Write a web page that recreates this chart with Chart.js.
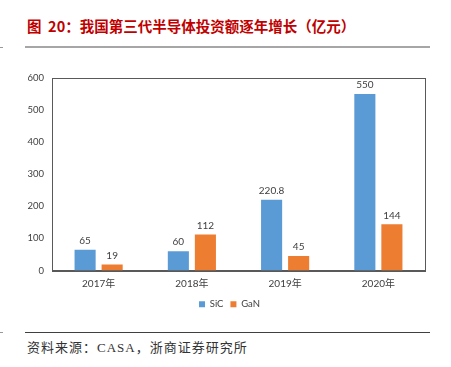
<!DOCTYPE html>
<html>
<head>
<meta charset="utf-8">
<script src="https://cdn.jsdelivr.net/npm/chart.js@4.4.1/dist/chart.umd.min.js"></script>
<style>
    body { margin: 0; background: #fff; width: 451px; height: 367px; position: relative; overflow: hidden; }
    .title { position: absolute; left: 27px; top: 15px; font: bold 14.5px "Noto Sans CJK SC", sans-serif; color: #c00000; white-space: pre; }
    .rule1 { position: absolute; left: 25px; top: 46px; width: 405px; height: 2px; background: #a6a6a6; }
    .rule2 { position: absolute; left: 25px; top: 332px; width: 405px; height: 1px; background: #404040; }
    .edge { position: absolute; left: 0; width: 3px; height: 1px; background: #999; }
    .source { position: absolute; left: 27px; top: 337px; font: 13px "Liberation Serif", "Noto Sans CJK SC", serif; color: #333; letter-spacing: 1px; white-space: nowrap; }
    #chartWrap { position: absolute; left: 0; top: 60px; }
</style>
</head>
<body>
<div class="title">图  20：我国第三代半导体投资额逐年增长（亿元）</div>
<div class="rule1"></div>
<div class="edge" style="top:47px"></div>
<div id="chartWrap"><canvas id="investChart" width="451" height="265"></canvas></div>
<div class="rule2"></div>
<div class="edge" style="top:332px"></div>
<div class="source">资料来源：CASA，浙商证券研究所</div>
<script>
const years = ['2017年', '2018年', '2019年', '2020年'];
const sicValues = [65, 60, 220.8, 550];
const ganValues = [19, 112, 45, 144];
const yMin = 0;
const yMax = 600;
const yStep = 100;

// labels above bars
const barLabels = {
    id: 'barLabels',
    afterDatasetsDraw(chart) {
        const ctx = chart.ctx;
        ctx.save();
        ctx.font = '10px Lato, "Noto Sans CJK SC", sans-serif';
        ctx.fillStyle = '#404040';
        ctx.textAlign = 'center';
        ctx.textBaseline = 'bottom';
        chart.data.datasets.forEach((ds, i) => {
            chart.getDatasetMeta(i).data.forEach((bar, j) => {
                ctx.fillText(String(ds.data[j]), bar.x, bar.y - 4);
            });
        });
        ctx.restore();
    }
};

// plot area box + nudge legend toward the plot centre
const plotBox = {
    id: 'plotBox',
    afterLayout(chart) {
        chart.legend.left += 7;
        chart.legend.right += 7;
    },
    afterDraw(chart) {
        const a = chart.chartArea;
        const ctx = chart.ctx;
        ctx.save();
        ctx.strokeStyle = '#595959';
        ctx.lineWidth = 1;
        ctx.strokeRect(Math.round(a.left) + 0.5, Math.round(a.top) + 0.5, Math.round(a.right - a.left), Math.round(a.bottom - a.top));
        ctx.restore();
    }
};

const ctx = document.getElementById('investChart').getContext('2d');
const investChart = new Chart(ctx, {
    type: 'bar',
    data: {
        labels: years,
        datasets: [{
            label: 'SiC',
            data: sicValues,
            backgroundColor: '#5b9bd5',
            barPercentage: 0.78,
            categoryPercentage: 0.58
        }, {
            label: 'GaN',
            data: ganValues,
            backgroundColor: '#ed7d31',
            barPercentage: 0.78,
            categoryPercentage: 0.58
        }]
    },
    options: {
        responsive: false,
        animation: false,
        layout: {
            padding: { top: 18, left: 20, right: 26, bottom: 6 }
        },
        scales: {
            x: {
                grid: { display: false },
                border: { display: true, color: '#595959' },
                ticks: {
                    color: '#404040',
                    padding: 0,
                    font: { size: 10, lineHeight: 1, family: 'Lato, "Noto Sans CJK SC", sans-serif' }
                },
                afterFit(scale) { scale.height += 4; }
            },
            y: {
                min: yMin,
                max: yMax,
                grid: { display: false, drawTicks: false },
                border: { display: true, color: '#595959' },
                ticks: {
                    stepSize: yStep,
                    padding: 8,
                    color: '#404040',
                    font: { size: 9.5, family: 'Lato, sans-serif' }
                },
                afterFit(scale) { scale.width = 32; }
            }
        },
        plugins: {
            tooltip: { enabled: false },
            legend: {
                position: 'bottom',
                labels: {
                    boxWidth: 6,
                    boxHeight: 6,
                    padding: 7,
                    color: '#404040',
                    font: { size: 9.5, family: 'Lato, sans-serif' }
                }
            }
        }
    },
    plugins: [barLabels, plotBox]
});
</script>
</body>
</html>
